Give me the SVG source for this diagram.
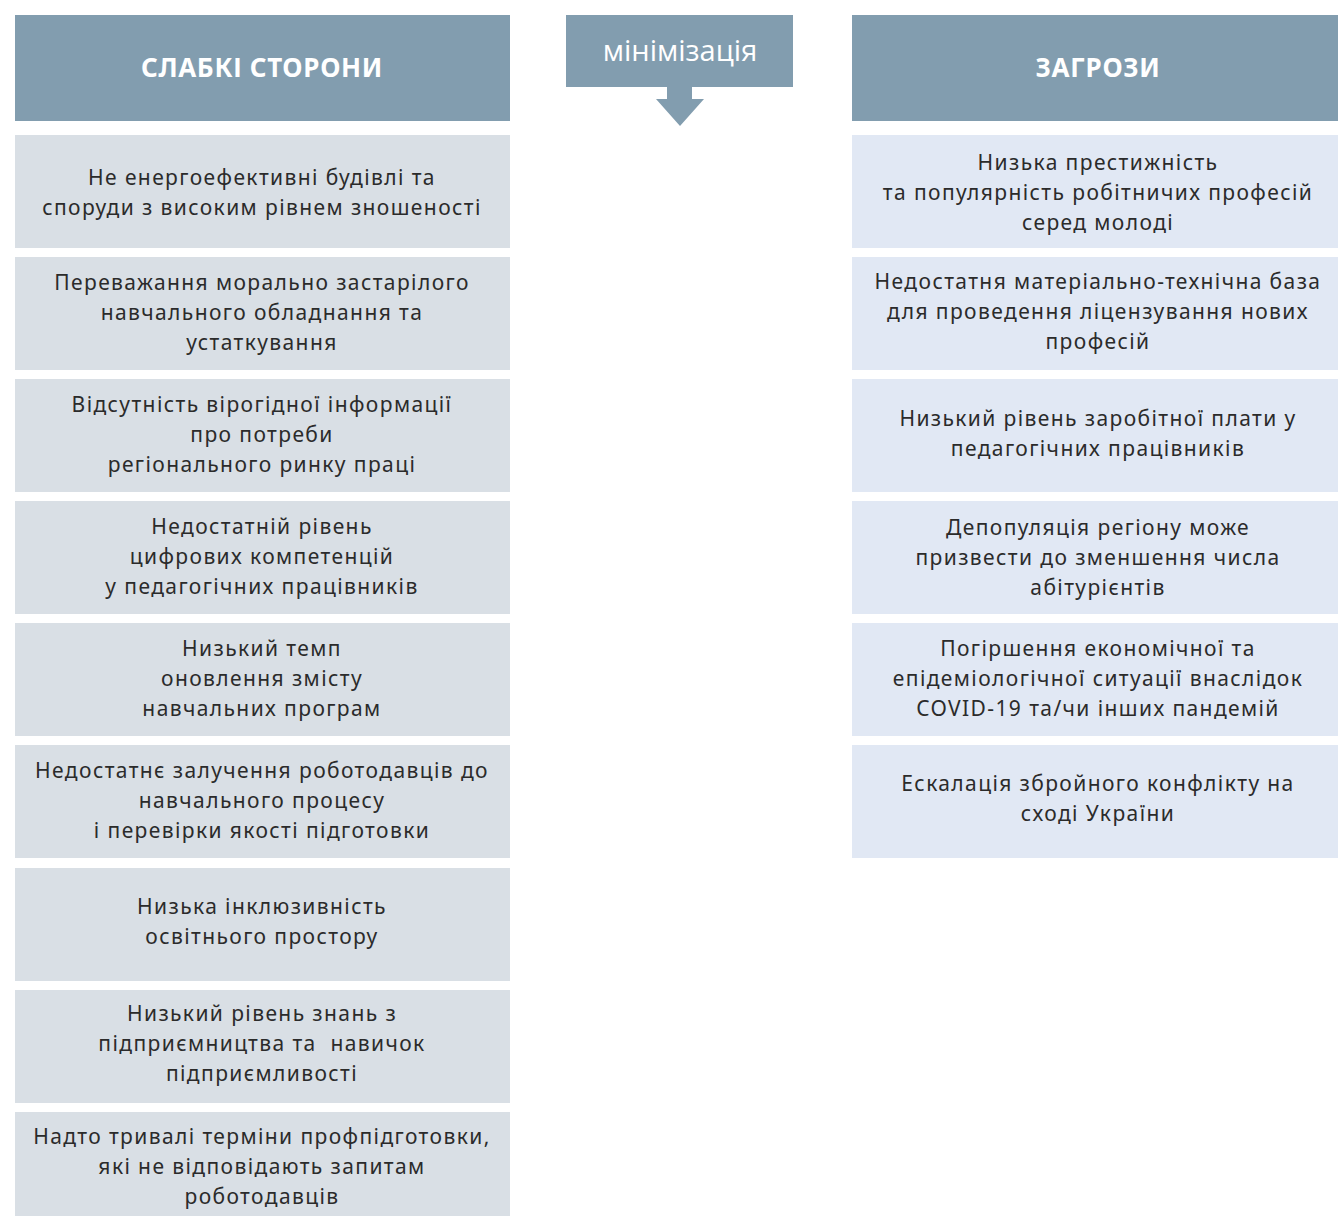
<svg xmlns="http://www.w3.org/2000/svg" width="1338" height="1216" viewBox="0 0 1338 1216">
<style>
.hdr{fill:#829daf}
.wk{fill:#d9dfe5}
.th{fill:#e1e8f4}
.ht{font-family:"Noto Sans",sans-serif;font-weight:bold;font-size:26px;letter-spacing:0.7px;fill:#ffffff;text-anchor:middle}
.t{font-family:"Noto Sans",sans-serif;font-size:21px;letter-spacing:1.4px;fill:#2b2b2b;text-anchor:middle}
.mt{font-family:"Open Sans",sans-serif;font-size:29px;fill:#ffffff;text-anchor:middle}
</style>
<rect width="1338" height="1216" fill="#ffffff"/>
<g id="hdr-weak"><rect class="hdr" x="15" y="15" width="495" height="106"/><text class="ht" x="262" y="77">СЛАБКІ СТОРОНИ</text></g>
<g id="hdr-threats"><rect class="hdr" x="852" y="15" width="492" height="106"/><text class="ht" x="1098" y="77">ЗАГРОЗИ</text></g>
<g id="min"><rect class="hdr" x="566" y="15" width="227" height="72"/><text class="mt" x="680" y="61">мінімізація</text></g>
<g id="connectors"><path class="hdr" d="M667,86 H692 V99 H704 L680,126 L656,99 H667 Z"/></g>
<g id="w1"><rect class="wk" x="15" y="135" width="495" height="113"/><text class="t" x="262" y="185">Не енергоефективні будівлі та</text><text class="t" x="262" y="215">споруди з високим рівнем зношеності</text></g>
<g id="w2"><rect class="wk" x="15" y="257" width="495" height="113"/><text class="t" x="262" y="290">Переважання морально застарілого</text><text class="t" x="262" y="320">навчального обладнання та</text><text class="t" x="262" y="350">устаткування</text></g>
<g id="w3"><rect class="wk" x="15" y="379" width="495" height="113"/><text class="t" x="262" y="412">Відсутність вірогідної інформації</text><text class="t" x="262" y="442">про потреби</text><text class="t" x="262" y="472">регіонального ринку праці</text></g>
<g id="w4"><rect class="wk" x="15" y="501" width="495" height="113"/><text class="t" x="262" y="534">Недостатній рівень</text><text class="t" x="262" y="564">цифрових компетенцій</text><text class="t" x="262" y="594">у педагогічних працівників</text></g>
<g id="w5"><rect class="wk" x="15" y="623" width="495" height="113"/><text class="t" x="262" y="656">Низький темп</text><text class="t" x="262" y="686">оновлення змісту</text><text class="t" x="262" y="716">навчальних програм</text></g>
<g id="w6"><rect class="wk" x="15" y="745" width="495" height="113"/><text class="t" x="262" y="778">Недостатнє залучення роботодавців до</text><text class="t" x="262" y="808">навчального процесу</text><text class="t" x="262" y="838">і перевірки якості підготовки</text></g>
<g id="w7"><rect class="wk" x="15" y="868" width="495" height="113"/><text class="t" x="262" y="914">Низька інклюзивність</text><text class="t" x="262" y="944">освітнього простору</text></g>
<g id="w8"><rect class="wk" x="15" y="990" width="495" height="113"/><text class="t" x="262" y="1021">Низький рівень знань з</text><text class="t" x="262" y="1051" xml:space="preserve">підприємництва та  навичок</text><text class="t" x="262" y="1081">підприємливості</text></g>
<g id="w9"><rect class="wk" x="15" y="1112" width="495" height="113"/><text class="t" x="262" y="1144">Надто тривалі терміни профпідготовки,</text><text class="t" x="262" y="1174">які не відповідають запитам</text><text class="t" x="262" y="1204">роботодавців</text></g>
<g id="t1"><rect class="th" x="852" y="135" width="492" height="113"/><text class="t" x="1098" y="170">Низька престижність</text><text class="t" x="1098" y="200">та популярність робітничих професій</text><text class="t" x="1098" y="230">серед молоді</text></g>
<g id="t2"><rect class="th" x="852" y="257" width="492" height="113"/><text class="t" x="1098" y="289">Недостатня матеріально-технічна база</text><text class="t" x="1098" y="319">для проведення ліцензування нових</text><text class="t" x="1098" y="349">професій</text></g>
<g id="t3"><rect class="th" x="852" y="379" width="492" height="113"/><text class="t" x="1098" y="426">Низький рівень заробітної плати у</text><text class="t" x="1098" y="456">педагогічних працівників</text></g>
<g id="t4"><rect class="th" x="852" y="501" width="492" height="113"/><text class="t" x="1098" y="535">Депопуляція регіону може</text><text class="t" x="1098" y="565">призвести до зменшення числа</text><text class="t" x="1098" y="595">абітурієнтів</text></g>
<g id="t5"><rect class="th" x="852" y="623" width="492" height="113"/><text class="t" x="1098" y="656">Погіршення економічної та</text><text class="t" x="1098" y="686">епідеміологічної ситуації внаслідок</text><text class="t" x="1098" y="716">COVID-19 та/чи інших пандемій</text></g>
<g id="t6"><rect class="th" x="852" y="745" width="492" height="113"/><text class="t" x="1098" y="791">Ескалація збройного конфлікту на</text><text class="t" x="1098" y="821">сході України</text></g>
</svg>
